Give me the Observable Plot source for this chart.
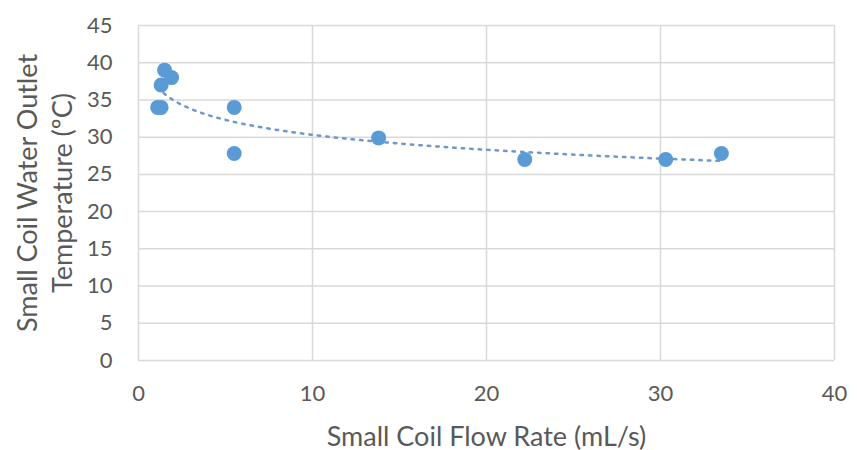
<!DOCTYPE html>
<html><head><meta charset="utf-8">
<script src="https://cdn.jsdelivr.net/npm/d3@7"></script>
<script src="https://cdn.jsdelivr.net/npm/@observablehq/plot@0.6"></script>
<style>body{margin:0;background:#fff;} svg{display:block;}</style>
</head><body><div id="chart"></div>
<script>
const flowRate = [1.1, 1.3, 1.3, 1.5, 1.9, 5.5, 5.5, 13.8, 22.2, 30.3, 33.5];
const outletTemp = [34, 34, 37, 39, 38, 34, 27.8, 29.9, 27, 27, 27.8];
const xTicks = [0, 10, 20, 30, 40];
const yTicks = [0, 5, 10, 15, 20, 25, 30, 35, 40, 45];
const xTitle = "Small Coil Flow Rate (mL/s)";
const yTitle = "Small Coil Water Outlet\nTemperature (ºC)";

const data = flowRate.map((x, i) => ({x, y: outletTemp[i]}));

// Logarithmic trendline (least squares of y on ln x), as in the source chart
const lx = flowRate.map(Math.log);
const mx = d3.mean(lx), my = d3.mean(outletTemp);
const b = d3.sum(lx, (v, i) => (v - mx) * (outletTemp[i] - my)) / d3.sum(lx, v => (v - mx) ** 2);
const a = my - b * mx;
const xmin = d3.min(flowRate), xmax = d3.max(flowRate);
const trend = d3.range(0, 201).map(i => {
  const x = xmin * Math.pow(xmax / xmin, i / 200);
  return {x, y: a + b * Math.log(x)};
});

const font = "Lato, 'Open Sans', sans-serif";
const blue = "#5B9BD5";
const grey = "#595959";
const chart = Plot.plot({
  width: 857, height: 450,
  marginLeft: 138, marginRight: 23, marginTop: 25, marginBottom: 90,
  style: {fontFamily: font, fontSize: "21px", color: grey, background: "#fff"},
  x: {domain: [0, 40], ticks: xTicks, tickSize: 0, label: null},
  y: {domain: [0, 45], ticks: yTicks, tickSize: 0, label: null},
  marks: [
    Plot.gridX(xTicks, {stroke: "#d9d9d9", strokeOpacity: 1, strokeWidth: 1.5}),
    Plot.gridY(yTicks, {stroke: "#d9d9d9", strokeOpacity: 1, strokeWidth: 1.5}),
    Plot.axisX({ticks: xTicks, tickSize: 0, tickPadding: 25, fontSize: 22, fill: grey, label: null}),
    Plot.axisY({ticks: yTicks, tickSize: 0, tickPadding: 26, fontSize: 22, fill: grey, label: null}),
    Plot.line(trend, {x: "x", y: "y", stroke: "#6f98c8", strokeWidth: 2.5, strokeDasharray: "2.5,6"}),
    Plot.dot(data, {x: "x", y: "y", r: 7.5, fill: blue, stroke: "none"}),
    Plot.text([xTitle], {frameAnchor: "bottom", dy: 85, fill: grey, fontSize: 27, fontFamily: font}),
    Plot.text([yTitle], {frameAnchor: "left", dx: -95, rotate: -90, textAnchor: "middle", lineAnchor: "middle", lineHeight: 1.27, fill: grey, fontSize: 27, fontFamily: font})
  ]
});
document.getElementById("chart").append(chart);
</script>
</body></html>
